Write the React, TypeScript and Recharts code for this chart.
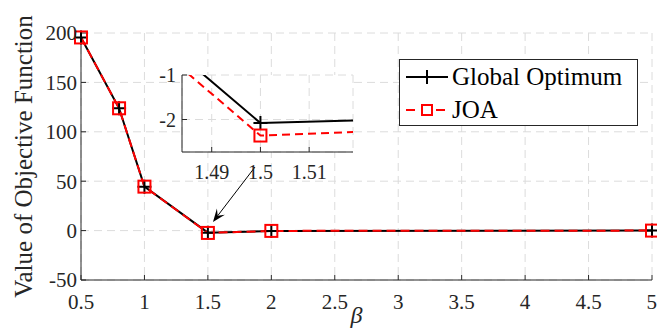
import React from 'react';
import { LineChart, Line, XAxis, YAxis, CartesianGrid, Legend, ReferenceLine } from 'recharts';

// Objective value versus beta for the two solvers
const betaValues = [0.5, 0.8, 1, 1.5, 2, 5];
const globalOptimumValues = [195.5, 123.8, 44.5, -2.08, -0.5, 0];
const joaValues = [195.5, 123.8, 44.5, -2.36, -0.3, 0];

const xTicks = [0.5, 1, 1.5, 2, 2.5, 3, 3.5, 4, 4.5, 5];
const yTicks = [-50, 0, 50, 100, 150, 200];
const insetXTicks = [1.49, 1.5, 1.51];
const insetYTicks = [-2, -1];
const seriesNames = ['Global Optimum', 'JOA'];

// annotation arrow pointing at the zoomed region (data coordinates)
const arrowTail = { x: 1.871, y: 64.3 };
const arrowTip = { x: 1.54, y: 8.8 };

const data = betaValues.map((b, i) => ({ beta: b, global: globalOptimumValues[i], joa: joaValues[i] }));

const FONT = 'Liberation Serif';
const AXIS = '#262626';
const GRID = '#dcdcdc';
const RED = '#ff0000';

const PlusDot = (props: any) => {
  const { cx, cy, index } = props;
  if (cx == null || cy == null) return <g key={`p${index}`} />;
  return (
    <path key={`p${index}`} d={`M${cx - 7},${cy}h14M${cx},${cy - 7}v14`} stroke="#000" strokeWidth={2} fill="none" />
  );
};

const SquareDot = (props: any) => {
  const { cx, cy, index } = props;
  if (cx == null || cy == null) return <g key={`s${index}`} />;
  return <rect key={`s${index}`} x={cx - 6} y={cy - 6} width={12} height={12} fill="none" stroke={RED} strokeWidth={2} />;
};

const ArrowShape = (props: any) => {
  const { x1, y1, x2, y2 } = props;
  const dx = x2 - x1;
  const dy = y2 - y1;
  const len = Math.sqrt(dx * dx + dy * dy) || 1;
  const ux = dx / len;
  const uy = dy / len;
  const px = -uy;
  const py = ux;
  const headLen = 13;
  const headHalf = 5;
  const bx = x2 - ux * headLen;
  const by = y2 - uy * headLen;
  const nx = x2 - ux * headLen * 0.6;
  const ny = y2 - uy * headLen * 0.6;
  const pts = `${x2},${y2} ${bx + px * headHalf},${by + py * headHalf} ${nx},${ny} ${bx - px * headHalf},${by - py * headHalf}`;
  return (
    <g>
      <line x1={x1} y1={y1} x2={nx} y2={ny} stroke="#000" strokeWidth={1} />
      <polygon points={pts} fill="#000" />
    </g>
  );
};

const YLabel = (props: any) => {
  const { viewBox } = props;
  const cx = 23;
  const cy = viewBox.y + viewBox.height / 2;
  return (
    <text
      x={cx}
      y={cy}
      transform={`rotate(-90 ${cx} ${cy})`}
      textAnchor="middle"
      dominantBaseline="central"
      style={{ fontFamily: FONT, fontSize: 25 }}
      fill={AXIS}
    >
      Value of Objective Function
    </text>
  );
};

const XLabel = (props: any) => {
  const { viewBox } = props;
  const cx = viewBox.x + viewBox.width / 2 - 10;
  return (
    <text x={cx} y={323} textAnchor="middle" style={{ fontFamily: FONT, fontSize: 24, fontStyle: 'italic' }} fill={AXIS}>
      β
    </text>
  );
};

const LegendBox = () => (
  <svg width={240} height={68} style={{ display: 'block' }}>
    <rect x={0.5} y={0.5} width={238} height={66} fill="#fff" stroke={AXIS} strokeWidth={1} />
    <line x1={7} y1={18} x2={49} y2={18} stroke="#000" strokeWidth={2} />
    <path d="M21,18h14M28,11v14" stroke="#000" strokeWidth={2} />
    <text x={53} y={26} style={{ fontFamily: FONT, fontSize: 25 }} fill="#000">
      {seriesNames[0]}
    </text>
    <line x1={7} y1={51} x2={49} y2={51} stroke={RED} strokeWidth={2} strokeDasharray="9 6 0 0" />
    <rect x={23} y={46} width={10} height={10} fill="#fff" stroke={RED} strokeWidth={2} />
    <text x={53} y={59} style={{ fontFamily: FONT, fontSize: 25 }} fill="#000">
      {seriesNames[1]}
    </text>
  </svg>
);

const tickStyle = { fill: AXIS, fontSize: 21, fontFamily: FONT };
const insetTickStyle = { fill: AXIS, fontSize: 20, fontFamily: FONT };

export default function App() {
  return (
    <div style={{ position: 'absolute', left: 0, top: 0, width: 657, height: 333, background: '#fff' }}>
      <LineChart width={657} height={333} data={data} margin={{ top: 33, right: 5, bottom: 0, left: 0 }}>
        <CartesianGrid stroke={GRID} strokeDasharray="8 5" />
        <XAxis
          dataKey="beta"
          type="number"
          domain={[0.5, 5]}
          ticks={xTicks}
          height={53}
          tickSize={-5}
          tickMargin={19}
          tick={tickStyle}
          axisLine={{ stroke: AXIS }}
          tickLine={{ stroke: AXIS }}
          label={<XLabel />}
        />
        <XAxis
          xAxisId="top"
          orientation="top"
          type="number"
          domain={[0.5, 5]}
          ticks={xTicks}
          height={0}
          tickSize={-5}
          tick={false}
          axisLine={{ stroke: AXIS }}
          tickLine={{ stroke: AXIS }}
        />
        <YAxis
          type="number"
          domain={[-50, 200]}
          ticks={yTicks}
          width={81}
          tickSize={-5}
          tickMargin={9}
          tick={tickStyle}
          axisLine={{ stroke: AXIS }}
          tickLine={{ stroke: AXIS }}
          label={<YLabel />}
        />
        <YAxis
          yAxisId="right"
          orientation="right"
          type="number"
          domain={[-50, 200]}
          ticks={yTicks}
          width={0}
          tickSize={-5}
          tick={false}
          axisLine={{ stroke: AXIS }}
          tickLine={{ stroke: AXIS }}
        />
        <Legend layout="horizontal" verticalAlign="middle" align="center" content={<LegendBox />}
          wrapperStyle={{ left: 399, top: 59, width: 240, height: 68 }} />
        <Line
          dataKey="global"
          name={seriesNames[0]}
          stroke="#000"
          strokeWidth={2}
          dot={<PlusDot />}
          isAnimationActive={false}
        />
        <Line
          dataKey="joa"
          name={seriesNames[1]}
          stroke={RED}
          strokeWidth={2}
          strokeDasharray="9 5"
          dot={<SquareDot />}
          isAnimationActive={false}
        />
        <ReferenceLine segment={[arrowTail, arrowTip]} ifOverflow="visible" shape={<ArrowShape />} />
      </LineChart>

      {/* zoomed view around beta = 1.5 */}
      <div style={{ position: 'absolute', left: 130, top: 60 }}>
        <LineChart width={230} height={130} data={data} margin={{ top: 15, right: 7, bottom: 0, left: 0 }}>
          <CartesianGrid stroke={GRID} strokeDasharray="8 5" fill="#fff" />
          <XAxis
            dataKey="beta"
            type="number"
            domain={[1.4839, 1.519]}
            allowDataOverflow
            ticks={insetXTicks}
            height={38}
            tickSize={-5}
            tickMargin={18}
            tick={insetTickStyle}
            axisLine={{ stroke: AXIS }}
            tickLine={{ stroke: AXIS }}
          />
          <XAxis
            xAxisId="top"
            orientation="top"
            type="number"
            domain={[1.4839, 1.519]}
            allowDataOverflow
            ticks={insetXTicks}
            height={0}
            tickSize={-5}
            tick={false}
            axisLine={{ stroke: AXIS }}
            tickLine={{ stroke: AXIS }}
          />
          <YAxis
            type="number"
            domain={[-2.73, -1]}
            allowDataOverflow
            ticks={insetYTicks}
            width={52}
            tickSize={-5}
            tickMargin={11}
            tick={insetTickStyle}
            axisLine={{ stroke: AXIS }}
            tickLine={{ stroke: AXIS }}
          />
          <YAxis
            yAxisId="right"
            orientation="right"
            type="number"
            domain={[-2.73, -1]}
            allowDataOverflow
            ticks={insetYTicks}
            width={0}
            tickSize={-5}
            tick={false}
            axisLine={{ stroke: AXIS }}
            tickLine={{ stroke: AXIS }}
          />
          <Line dataKey="global" stroke="#000" strokeWidth={2} dot={<PlusDot />} isAnimationActive={false} />
          <Line dataKey="joa" stroke={RED} strokeWidth={2} strokeDasharray="8 5" dot={<SquareDot />} isAnimationActive={false} />
        </LineChart>
      </div>
    </div>
  );
}
